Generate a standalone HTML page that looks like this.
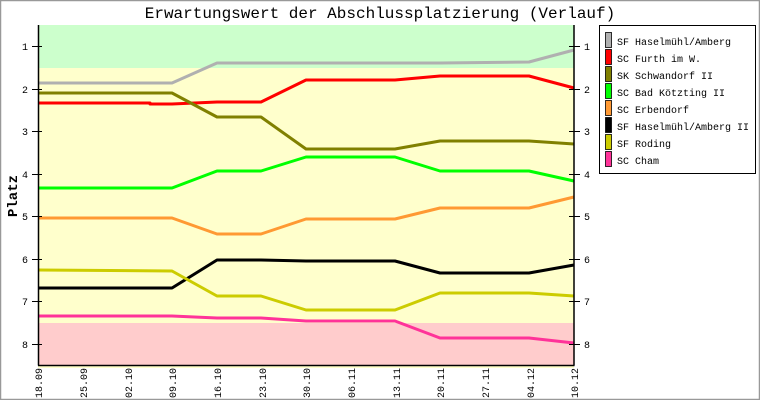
<!DOCTYPE html>
<html><head><meta charset="utf-8"><style>
html,body{margin:0;padding:0;background:#fff}
svg{display:block;font-family:"Liberation Mono","DejaVu Sans Mono",monospace}
</style></head><body>
<svg width="760" height="400" viewBox="0 0 760 400" xmlns="http://www.w3.org/2000/svg">
<rect x="0.5" y="0.5" width="759" height="399" fill="#fff" stroke="#999" stroke-width="1.5"/>
<text x="380" y="18" text-anchor="middle" font-size="16">Erwartungswert der Abschlussplatzierung (Verlauf)</text>
<rect x="38" y="25" width="536" height="343" fill="#ffffcc"/>
<rect x="38" y="25" width="536" height="43" fill="#ccffcc"/>
<rect x="38" y="323" width="536" height="42" fill="#ffcccc"/>
<g fill="none" stroke-width="3" stroke-linejoin="round">
<polyline stroke="#b0b0b0" points="38,83 172,83 217,63 440,63 529,62 574,50"/>
<polyline stroke="#ff0000" points="38,103 150,103 150,104 172,104 217,102 261,102 306,80 395,80 440,76 529,76 574,88"/>
<polyline stroke="#808000" points="38,93 172,93 217,117 261,117 306,149 395,149 440,141 529,141 574,144"/>
<polyline stroke="#00ff00" points="38,188 172,188 217,171 261,171 306,157 395,157 440,171 529,171 574,181"/>
<polyline stroke="#ff9933" points="38,218 172,218 217,234 261,234 306,219 395,219 440,208 529,208 574,197"/>
<polyline stroke="#000000" points="38,288 172,288 217,260 261,260 306,261 395,261 440,273 529,273 574,265"/>
<polyline stroke="#cccc00" points="38,270 172,271 217,296 261,296 306,310 395,310 440,293 529,293 574,296"/>
<polyline stroke="#ff3399" points="38,316 172,316 217,318 261,318 306,321 395,321 440,338 529,338 574,343"/>
</g>
<g stroke="#000" stroke-width="1.5">
<line x1="38.5" y1="25" x2="38.5" y2="365.5"/>
<line x1="574" y1="25" x2="574" y2="365.5"/>
<line x1="38" y1="365.5" x2="574.5" y2="365.5"/>
</g>
<g stroke="#000" stroke-width="1">
<line x1="32" y1="46.5" x2="42" y2="46.5"/><line x1="569" y1="46.5" x2="580" y2="46.5"/>
<line x1="32" y1="89.5" x2="42" y2="89.5"/><line x1="569" y1="89.5" x2="580" y2="89.5"/>
<line x1="32" y1="131.5" x2="42" y2="131.5"/><line x1="569" y1="131.5" x2="580" y2="131.5"/>
<line x1="32" y1="174.5" x2="42" y2="174.5"/><line x1="569" y1="174.5" x2="580" y2="174.5"/>
<line x1="32" y1="216.5" x2="42" y2="216.5"/><line x1="569" y1="216.5" x2="580" y2="216.5"/>
<line x1="32" y1="259.5" x2="42" y2="259.5"/><line x1="569" y1="259.5" x2="580" y2="259.5"/>
<line x1="32" y1="301.5" x2="42" y2="301.5"/><line x1="569" y1="301.5" x2="580" y2="301.5"/>
<line x1="32" y1="344.5" x2="42" y2="344.5"/><line x1="569" y1="344.5" x2="580" y2="344.5"/>
</g>
<g font-size="10">
<g text-anchor="middle">
<text x="25" y="50">1</text><text x="25" y="93">2</text><text x="25" y="135">3</text><text x="25" y="178">4</text><text x="25" y="220">5</text><text x="25" y="263">6</text><text x="25" y="305">7</text><text x="25" y="348">8</text>
<text x="587" y="50">1</text><text x="587" y="93">2</text><text x="587" y="135">3</text><text x="587" y="178">4</text><text x="587" y="220">5</text><text x="587" y="263">6</text><text x="587" y="305">7</text><text x="587" y="348">8</text>
</g>
</g>
<text transform="translate(17,196) rotate(-90)" text-anchor="middle" font-size="14" font-weight="bold">Platz</text>
<g font-size="10" text-anchor="end">
<text transform="translate(42,368) rotate(-90)">18.09</text>
<text transform="translate(87,368) rotate(-90)">25.09</text>
<text transform="translate(132,368) rotate(-90)">02.10</text>
<text transform="translate(176,368) rotate(-90)">09.10</text>
<text transform="translate(221,368) rotate(-90)">16.10</text>
<text transform="translate(266,368) rotate(-90)">23.10</text>
<text transform="translate(310,368) rotate(-90)">30.10</text>
<text transform="translate(355,368) rotate(-90)">06.11</text>
<text transform="translate(400,368) rotate(-90)">13.11</text>
<text transform="translate(444,368) rotate(-90)">20.11</text>
<text transform="translate(489,368) rotate(-90)">27.11</text>
<text transform="translate(534,368) rotate(-90)">04.12</text>
<text transform="translate(578,368) rotate(-90)">10.12</text>
</g>
<rect x="599.5" y="25.5" width="156" height="148" fill="#fff" stroke="#000" stroke-width="1"/>
<g stroke="#000" stroke-width="0.8">
<rect x="605.5" y="32.5" width="6" height="15" fill="#b0b0b0"/>
<rect x="605.5" y="49.5" width="6" height="15" fill="#ff0000"/>
<rect x="605.5" y="66.5" width="6" height="15" fill="#808000"/>
<rect x="605.5" y="83.5" width="6" height="15" fill="#00ff00"/>
<rect x="605.5" y="100.5" width="6" height="15" fill="#ff9933"/>
<rect x="605.5" y="117.5" width="6" height="15" fill="#000000"/>
<rect x="605.5" y="134.5" width="6" height="15" fill="#cccc00"/>
<rect x="605.5" y="151.5" width="6" height="15" fill="#ff3399"/>
</g>
<g font-size="10">
<text x="617" y="45">SF Haselmühl/Amberg</text>
<text x="617" y="62">SC Furth im W.</text>
<text x="617" y="79">SK Schwandorf II</text>
<text x="617" y="96">SC Bad Kötzting II</text>
<text x="617" y="113">SC Erbendorf</text>
<text x="617" y="130">SF Haselmühl/Amberg II</text>
<text x="617" y="147">SF Roding</text>
<text x="617" y="164">SC Cham</text>
</g>
</svg>
</body></html>
